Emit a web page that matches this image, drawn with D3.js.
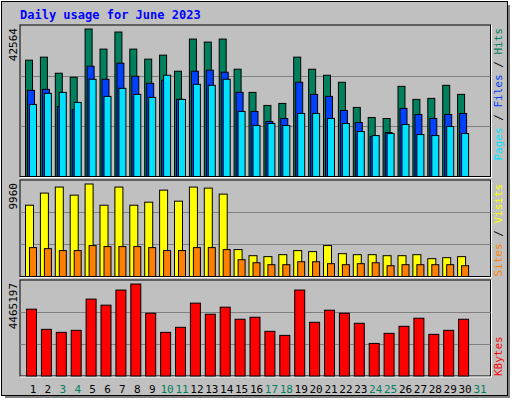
<!DOCTYPE html>
<html>
<head>
<meta charset="utf-8">
<script src="https://cdn.jsdelivr.net/npm/d3@7"></script>
<style>
  body { margin: 0; background: #fff; }
  text { font-family: "DejaVu Sans Mono", monospace; }
</style>
</head>
<body>
<svg id="chart" width="512" height="400"></svg>
<script>
const days = d3.range(1, 32);
const weekends = [3, 4, 10, 11, 17, 18, 24, 25, 31];

const hits = [33570, 34440, 29800, 28640, 42564, 36760, 41690, 36760, 33860, 35020, 30380, 39660, 38790, 39660, 30960,
              24280, 20510, 21090, 34440, 30960, 29220, 27190, 19930, 17030, 16740, 26020, 22250, 22540, 26310, 23700];
const files = [24860, 25150, 20220, 19350, 31830, 28060, 32700, 28920, 26890, 27770, 22250, 30380, 30670, 30090, 24280,
               18770, 15870, 16740, 27190, 23700, 23120, 19060, 15580, 11520, 12680, 19640, 17900, 16740, 17900, 18190];
const pages = [20800, 23990, 24280, 21380, 28060, 23120, 25440, 23700, 22830, 29220, 22250, 26600, 26310, 28060, 18770,
               14710, 15290, 14710, 18190, 18190, 16740, 15290, 12970, 11810, 12390, 15000, 12100, 11810, 14420, 12390];
const visits = [7675, 8980, 9630, 8760, 9960, 7675, 9630, 7675, 8000, 9300, 8110, 9630, 9520, 8870, 2900,
                2240, 2140, 2350, 2790, 2680, 3330, 2460, 2350, 2350, 2240, 2240, 2350, 1920, 2030, 2140];
const sites = [3110, 3000, 2790, 2790, 3330, 3220, 3220, 3220, 3110, 2790, 2790, 3110, 3110, 2900, 1810,
               1480, 1270, 1270, 1590, 1590, 1380, 1270, 1380, 1480, 1160, 1270, 1270, 1270, 1270, 1160];
const kbytes = [3242900, 2265100, 2118500, 2216300, 3731800, 3438500, 4171800, 4465197, 3047400, 2118500, 2362900, 3536200, 2998500, 3340700, 2754000,
                2851800, 2167400, 1971800, 4171800, 2607400, 3194000, 3047400, 2558500, 1580700, 2069600, 2411800, 2802900, 2020700, 2216300, 2754000];

const svg = d3.select("#chart");

// frame + shadow
svg.append("rect").attr("x", 5).attr("y", 5).attr("width", 505).attr("height", 393).attr("fill", "#808080");
svg.append("rect").attr("x", 1.5).attr("y", 1.5).attr("width", 506).attr("height", 394)
   .attr("fill", "#c0c0c0").attr("stroke", "#000");

svg.append("text").attr("x", 20).attr("y", 19)
   .attr("fill", "#0000ff").attr("font-size", 12).attr("font-weight", "bold")
   .text("Daily usage for June 2023");

const x = d3.scaleLinear().domain([1, 32]).range([25, 25 + 31 * 14.9]);

const panels = [
  { top: 25, bottom: 176.5, max: 42564, series: [
      { data: hits, color: "#00805c", off: 0.5, w: 7 },
      { data: files, color: "#0040ff", off: 2.5, w: 7 },
      { data: pages, color: "#00e0ff", off: 4.5, w: 7 }],
    labels: [["Pages", "#00e0ff"], [" / ", "#000"], ["Files", "#0040ff"], [" / ", "#000"], ["Hits", "#00805c"]],
    labelAt: "top" },
  { top: 180, bottom: 276.5, max: 9960, series: [
      { data: visits, color: "#ffff00", off: 0.5, w: 8 },
      { data: sites, color: "#ff8000", off: 4.5, w: 7 }],
    labels: [["Sites", "#ff8000"], [" / ", "#000"], ["Visits", "#ffff00"]],
    labelAt: "bottom" },
  { top: 280, bottom: 376, max: 4465197, series: [
      { data: kbytes, color: "#ff0000", off: 1.5, w: 10 }],
    labels: [["KBytes", "#ff0000"]],
    labelAt: "bottom" }
];

panels.forEach(p => {
  const left = 20, right = 490.5;
  svg.append("rect").attr("x", left).attr("y", p.top).attr("width", right - left).attr("height", p.bottom - p.top)
     .attr("fill", "#c0c0c0").attr("stroke", "#000");
  svg.append("path").attr("d", `M${right + 1},${p.top} V${p.bottom + 1} H${left}`)
     .attr("stroke", "#fff").attr("fill", "none");

  // grid lines at thirds
  const g = d3.scaleLinear().domain([0, 3]).range([p.bottom, p.top]);
  [1, 2].forEach(t => {
    svg.append("line").attr("x1", left).attr("x2", right)
       .attr("y1", Math.round(g(t)) + 0.5).attr("y2", Math.round(g(t)) + 0.5)
       .attr("stroke", "#808080");
  });

  const y = d3.scaleLinear().domain([0, p.max]).range([p.bottom, p.top + 4]);
  p.series.forEach(s => {
    svg.append("g").selectAll("rect").data(s.data).enter().append("rect")
       .attr("x", (d, i) => x(i + 1) + s.off)
       .attr("y", d => y(d))
       .attr("width", s.w)
       .attr("height", d => p.bottom - y(d))
       .attr("fill", s.color).attr("stroke", "#000");
  });

  svg.append("text")
     .attr("transform", `translate(17,${p.top + 3}) rotate(-90)`)
     .attr("text-anchor", "end").attr("font-size", 11).attr("fill", "#000")
     .text(p.max);

  const lbl = svg.append("text")
     .attr("transform", `translate(502,${p.labelAt === "top" ? p.top + 3 : p.bottom}) rotate(-90)`)
     .attr("text-anchor", p.labelAt === "top" ? "end" : "start")
     .attr("font-size", 11);
  p.labels.forEach(l => lbl.append("tspan").attr("fill", l[1]).text(l[0]));
});

// day labels
svg.append("g").selectAll("text").data(days).enter().append("text")
   .attr("x", d => x(d) + 8)
   .attr("y", 393)
   .attr("text-anchor", "middle").attr("font-size", 11)
   .attr("fill", d => weekends.includes(d) ? "#008060" : "#000")
   .text(d => d);
</script>
</body>
</html>
